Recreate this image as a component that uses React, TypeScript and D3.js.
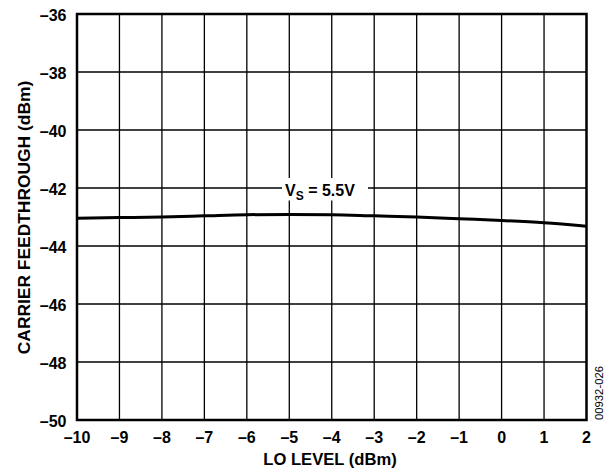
import React from "react";
import * as d3 from "d3";

const loLevel = [-10, -9, -8, -7, -6, -5, -4, -3, -2, -1, 0, 1, 2];
const feedthrough = [-43.04, -43.02, -43.0, -42.96, -42.92, -42.91, -42.92, -42.96, -43.0, -43.06, -43.12, -43.2, -43.32];
const xTicks = [-10, -9, -8, -7, -6, -5, -4, -3, -2, -1, 0, 1, 2];
const yTicks = [-36, -38, -40, -42, -44, -46, -48, -50];

const W = 614, H = 471;
const L = 77, R = 586.5, T = 14, B = 420;
const FONT = "'Liberation Sans', Arial, sans-serif";

const fmt = (v: number) => (v < 0 ? "\u2013" + Math.abs(v) : String(v));

export default function App() {
  const x = d3.scaleLinear().domain([-10, 2]).range([L, R]);
  const y = d3.scaleLinear().domain([-50, -36]).range([B, T]);
  const line = d3.line<number>().x((_, i) => x(loLevel[i])).y((d) => y(d)).curve(d3.curveMonotoneX);
  return (
    <svg width={W} height={H} style={{ position: "absolute", left: 0, top: 0 }} fontFamily={FONT}>
      <rect width={W} height={H} fill="#fff" />
      {xTicks.slice(1, -1).map((t) => (
        <line key={"gx" + t} x1={x(t)} x2={x(t)} y1={T} y2={B} stroke="#000" strokeWidth={1.3} />
      ))}
      {yTicks.slice(1, -1).map((t) => (
        <line key={"gy" + t} x1={L} x2={R} y1={y(t)} y2={y(t)} stroke="#000" strokeWidth={1.3} />
      ))}
      <rect x={L} y={T} width={R - L} height={B - T} fill="none" stroke="#000" strokeWidth={2.5} />
      <path d={line(feedthrough) || ""} fill="none" stroke="#000" strokeWidth={3} />
      <rect x={282} y={178} width={86} height={22.5} fill="#fff" />
      <text x={285} y={196} fontSize={16} fontWeight="bold">
        V<tspan fontSize={12} dy={3.5}>S</tspan>
        <tspan dy={-3.5}> = 5.5V</tspan>
      </text>
      {yTicks.map((t) => (
        <text key={"yt" + t} x={66.5} y={y(t) + 7} textAnchor="end" fontSize={16} fontWeight="bold">
          {fmt(t)}
        </text>
      ))}
      {xTicks.map((t) => (
        <text key={"xt" + t} x={x(t)} y={443} textAnchor="middle" fontSize={16} fontWeight="bold">
          {fmt(t)}
        </text>
      ))}
      <text x={330} y={465} textAnchor="middle" fontSize={16.6} fontWeight="bold">
        LO LEVEL (dBm)
      </text>
      <text transform={`translate(29.5,217.5) rotate(-90)`} textAnchor="middle" fontSize={17.4} fontWeight="bold">
        CARRIER FEEDTHROUGH (dBm)
      </text>
      <text transform={`translate(603,393) rotate(-90)`} textAnchor="middle" fontSize={11.3}>
        00932-026
      </text>
    </svg>
  );
}
